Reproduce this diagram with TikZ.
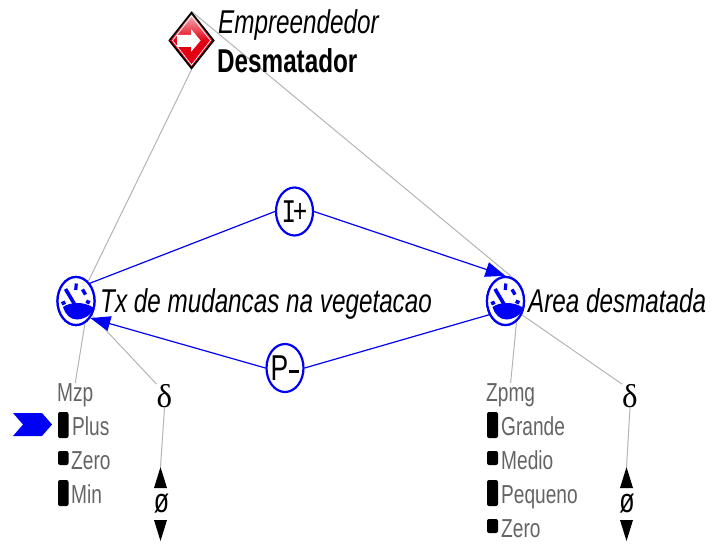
\documentclass[tikz,border=0pt]{standalone}
\usepackage{fontspec}
\setmainfont[FakeStretch=0.735]{Liberation Sans}
\newfontfamily\monof[FakeStretch=0.735]{Liberation Mono}
\newfontfamily\symf{Liberation Serif}
\usetikzlibrary{shapes.geometric,arrows.meta}
\definecolor{gb}{RGB}{0,0,245}
\definecolor{gl}{RGB}{180,180,180}
\definecolor{gt}{RGB}{100,100,100}
\definecolor{rd}{RGB}{225,0,20}
\tikzset{
  glink/.style={draw=gl,line width=1pt},
  blink/.style={draw=gb,line width=1.2pt},
  barrow/.style={blink,-{Triangle[length=20pt,width=15pt,fill=gb]}},
  ring/.style={ellipse,draw=gb,line width=2.2pt,fill=white,minimum width=37pt,minimum height=48pt,inner sep=0pt},
  big/.style={anchor=base west,inner sep=0pt,text=black},
  small/.style={anchor=base west,inner sep=0pt,font=\fontsize{26}{26}\selectfont,text=gt},
  sym/.style={inner sep=0pt,text=black},
  bar/.style={fill=black,rounded corners=2pt},
  gaugeicon/.pic={
    \fill[gb] (-13,6) .. controls (-6,1) and (8,0) .. (18,7) .. controls (14,16) and (6,18.5) .. (1,18.5) .. controls (-6,18.5) and (-11,13) .. cycle;
    \draw[gb,line width=3.6pt] (-10.5,-12) -- (2,9);
    \fill[gb,rotate around={-5:(0,-14)}] (-1.6,-17.5) rectangle (1.6,-11);
    \fill[gb,rotate around={30:(8,-9)}] (6.3,-12) rectangle (9.7,-6);
    \fill[gb,rotate around={65:(12,1)}] (10.2,-1) rectangle (13.8,3);
    \fill[gb,rotate around={-65:(-12.5,2)}] (-14.3,0) rectangle (-10.7,4);
  }
}
\begin{document}
\begin{tikzpicture}[x=1pt,y=-1pt]
\useasboundingbox (0,0) rectangle (711,543);

% nodes
\node[diamond,minimum width=46pt,minimum height=58pt,inner sep=0pt] (dia) at (191.5,40.5) {};
\node[ring] (gL) at (76,301) {};
\node[ring] (gR) at (505.5,301) {};
\node[ring] (ip) at (294.5,211.5) {};
\node[ring] (pm) at (285,368) {};

\node[small] (mzp) at (57,401) {Mzp};
\node[small] (zpmg) at (486,401) {Zpmg};
\node[sym,font=\symf\fontsize{33}{33}\selectfont] (dL) at (164.5,396) {δ};
\node[sym,font=\symf\fontsize{33}{33}\selectfont] (dR) at (630,396) {δ};
\node[sym,font=\fontsize{34}{34}\selectfont] (oL) at (161.5,504) {ø};
\node[sym,font=\fontsize{34}{34}\selectfont] (oR) at (627,504) {ø};
\coordinate (uL) at (160.5,467);
\coordinate (uR) at (626.5,467);
\coordinate (vL) at (160.5,541);
\coordinate (vR) at (626.5,541);

% grey connectors
\draw[glink] (dia.south) -- (gL.58);
\draw[glink] (dia.north) -- (gR.72);
\draw[glink] (gL.-68) -- (mzp.north);
\draw[glink] (gL.-42) -- (dL.north west);
\draw[glink] (gR.-62) -- (zpmg.north);
\draw[glink] (gR.-40) -- (dR.north west);
\draw[glink] (dL.south) -- (uL);
\draw[glink] (dR.south) -- (uR);

% triangles
\fill[black] (uL) -- ++(6.5,21) -- ++(-13,0) -- cycle;
\fill[black] (uR) -- ++(6.5,21) -- ++(-13,0) -- cycle;
\fill[black] (vL) -- ++(6.5,-21) -- ++(-13,0) -- cycle;
\fill[black] (vR) -- ++(6.5,-21) -- ++(-13,0) -- cycle;

% redraw rings over the lines
\node[ring] at (gL) {};
\node[ring] at (gR) {};
\pic at (gL) {gaugeicon};
\pic at (gR) {gaugeicon};

% blue connectors
\draw[blink] (gL.52) -- (ip.west);
\draw[barrow] (ip.east) -- (gR.north);
\draw[blink] (gR.-140) -- (pm.east);
\draw[barrow] (pm.west) -- (gL.-50);

% diamond icon
\fill[black] (dia.north) -- (dia.east) -- (dia.south) -- (dia.west) -- cycle;
\shade[top color=rd!30!white,bottom color=rd,middle color=rd] (191.5,14.5) -- (212.5,40.5) -- (191.5,66.5) -- (170.5,40.5) -- cycle;
\draw[white,line width=0.7pt] (191.5,16) -- (210.5,40.5) -- (191.5,65) -- (172.5,40.5) -- cycle;
\fill[white] (177,35) -- (191,35) -- (191,29) -- (200.5,40.5) -- (191,52) -- (191,47) -- (177,47) -- cycle;

% text
\node[big,font=\fontsize{33}{33}\selectfont\itshape] (t1) at (218,34) {Empreendedor};
\node[big,font=\fontsize{33}{33}\selectfont\bfseries] (t2) at (217,72) {Desmatador};
\node[big,font=\fontsize{33}{33}\selectfont\itshape] (t3) at (100,312.5) {Tx de mudancas na vegetacao};
\node[big,font=\fontsize{33}{33}\selectfont\itshape] (t4) at (528,312.5) {Area desmatada};
\node[sym,font=\monof\fontsize{33}{33}\selectfont] at (ip) {I\kern-3.5pt+};
\node[sym,font=\fontsize{36}{36}\selectfont] at (pm) {P\kern1pt\rule[7pt]{10pt}{3.6pt}};

% value lists
\fill[gb] (13,413) -- (42,413) -- (52,424.5) -- (42,436) -- (13,436) -- (23,424.5) -- cycle;
\fill[bar] (58,412) rectangle (68.5,438);
\fill[bar] (58,451) rectangle (68.5,465);
\fill[bar] (58,480) rectangle (68.5,506);
\fill[bar] (487,412) rectangle (498,438);
\fill[bar] (487,451) rectangle (498,465);
\fill[bar] (487,480) rectangle (498,506);
\fill[bar] (487,519) rectangle (498,533);
\node[small] (a1) at (72,435.5) {Plus};
\node[small] (a2) at (71,469.5) {Zero};
\node[small] (a3) at (71,503.5) {Min};
\node[small] (b1) at (501,435.5) {Grande};
\node[small] (b2) at (501,469.5) {Medio};
\node[small] (b3) at (501,503.5) {Pequeno};
\node[small] (b4) at (501,537.5) {Zero};
\end{tikzpicture}
\end{document}
